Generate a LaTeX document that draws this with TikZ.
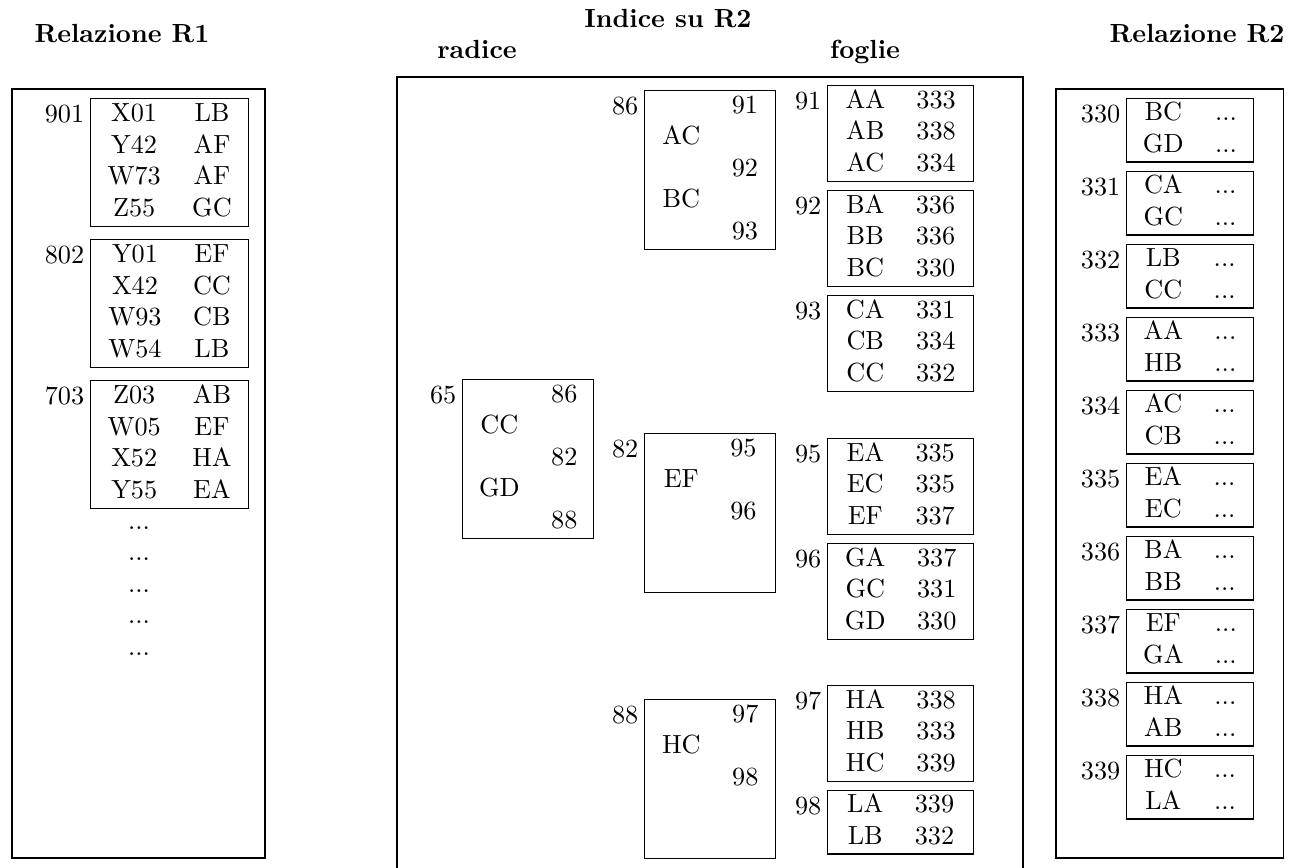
\documentclass[tikz,border=0pt]{standalone}
\usepackage{amsmath}
\usepackage{tikz}
\usetikzlibrary{positioning}

\begin{document}
\begin{tikzpicture}[x=0.0134cm, y=-0.0134cm,
    rec/.style={draw, inner sep=0pt, anchor=north west},
    r1rec/.style={rec, minimum width=2.12cm, minimum height=1.72cm},
    inode/.style={rec, minimum width=1.76cm, minimum height=2.13cm},
    leaf/.style={rec, minimum width=1.96cm, minimum height=1.29cm},
    r2rec/.style={rec, minimum width=1.70cm, minimum height=0.85cm},
    num/.style={anchor=north east, inner xsep=2pt, inner ysep=2.5pt},
    title/.style={anchor=base, font=\bfseries}]

    \useasboundingbox (0,0) rectangle (1294,867);

    % Titoli
    \node[title] (tr1) at (122,42) {Relazione R1};
    \node[title] (tidx) at (668,27) {Indice su R2};
    \node[title] (trad) at (477,58) {radice};
    \node[title] (tfog) at (865,58) {foglie};
    \node[title] (tr2) at (1197,42) {Relazione R2};

    % Contenitori
    \draw (12,89) rectangle (265,858);
    \draw (397,868) |- (1023,77) -- (1023,868);
    \draw (1056,89) rectangle (1283,858);

    % Relazione R1: blocchi
    \node[r1rec] (b901) at (90,98) {\begin{tabular}{cc} X01 & LB\\ Y42 & AF\\ W73 & AF\\ Z55 & GC \end{tabular}};
    \node[num] (l901) at (b901.north west) {901};
    \node[r1rec] (b802) at (90,239) {\begin{tabular}{cc} Y01 & EF\\ X42 & CC\\ W93 & CB\\ W54 & LB \end{tabular}};
    \node[num] (l802) at (b802.north west) {802};
    \node[r1rec] (b703) at (90,380) {\begin{tabular}{cc} Z03 & AB\\ W05 & EF\\ X52 & HA\\ Y55 & EA \end{tabular}};
    \node[num] (l703) at (b703.north west) {703};
    \node[align=center] (r1dots) at (139,591) {...\\ ...\\ ...\\ ...\\ ...};

    % Indice: radice
    \node[inode] (root) at (462,379) {\begin{tabular}{cc} & 86\\ CC & \\ & 82\\ GD & \\ & 88 \end{tabular}};
    \node[num] (l65) at (root.north west) {65};

    % Indice: nodi intermedi
    \node[inode] (i86) at (644,90) {\begin{tabular}{cc} & 91\\ AC & \\ & 92\\ BC & \\ & 93 \end{tabular}};
    \node[num] (l86) at (i86.north west) {86};
    \node[inode] (i82) at (644,433) {\begin{tabular}{cc} & 95\\ EF & \\ & 96\\ & \\ & \end{tabular}};
    \node[num] (l82) at (i82.north west) {82};
    \node[inode] (i88) at (644,699) {\begin{tabular}{cc} & 97\\ HC & \\ & 98\\ & \\ & \end{tabular}};
    \node[num] (l88) at (i88.north west) {88};

    % Indice: foglie
    \node[leaf] (f91) at (827,85) {\begin{tabular}{cc} AA & 333\\ AB & 338\\ AC & 334 \end{tabular}};
    \node[num] (l91) at (f91.north west) {91};
    \node[leaf] (f92) at (827,190) {\begin{tabular}{cc} BA & 336\\ BB & 336\\ BC & 330 \end{tabular}};
    \node[num] (l92) at (f92.north west) {92};
    \node[leaf] (f93) at (827,295) {\begin{tabular}{cc} CA & 331\\ CB & 334\\ CC & 332 \end{tabular}};
    \node[num] (l93) at (f93.north west) {93};
    \node[leaf] (f95) at (827,438) {\begin{tabular}{cc} EA & 335\\ EC & 335\\ EF & 337 \end{tabular}};
    \node[num] (l95) at (f95.north west) {95};
    \node[leaf] (f96) at (827,543) {\begin{tabular}{cc} GA & 337\\ GC & 331\\ GD & 330 \end{tabular}};
    \node[num] (l96) at (f96.north west) {96};
    \node[leaf] (f97) at (827,685) {\begin{tabular}{cc} HA & 338\\ HB & 333\\ HC & 339 \end{tabular}};
    \node[num] (l97) at (f97.north west) {97};
    \node[leaf, minimum height=0.85cm] (f98) at (827,790) {\begin{tabular}{cc} LA & 339\\ LB & 332 \end{tabular}};
    \node[num] (l98) at (f98.north west) {98};

    % Relazione R2: blocchi
    \node[r2rec] (p330) at (1126,98) {\begin{tabular}{cc} BC & ...\\ GD & ... \end{tabular}};
    \node[num] (l330) at (p330.north west) {330};
    \node[r2rec] (p331) at (1126,171) {\begin{tabular}{cc} CA & ...\\ GC & ... \end{tabular}};
    \node[num] (l331) at (p331.north west) {331};
    \node[r2rec] (p332) at (1126,244) {\begin{tabular}{cc} LB & ...\\ CC & ... \end{tabular}};
    \node[num] (l332) at (p332.north west) {332};
    \node[r2rec] (p333) at (1126,317) {\begin{tabular}{cc} AA & ...\\ HB & ... \end{tabular}};
    \node[num] (l333) at (p333.north west) {333};
    \node[r2rec] (p334) at (1126,390) {\begin{tabular}{cc} AC & ...\\ CB & ... \end{tabular}};
    \node[num] (l334) at (p334.north west) {334};
    \node[r2rec] (p335) at (1126,463) {\begin{tabular}{cc} EA & ...\\ EC & ... \end{tabular}};
    \node[num] (l335) at (p335.north west) {335};
    \node[r2rec] (p336) at (1126,536) {\begin{tabular}{cc} BA & ...\\ BB & ... \end{tabular}};
    \node[num] (l336) at (p336.north west) {336};
    \node[r2rec] (p337) at (1126,609) {\begin{tabular}{cc} EF & ...\\ GA & ... \end{tabular}};
    \node[num] (l337) at (p337.north west) {337};
    \node[r2rec] (p338) at (1126,682) {\begin{tabular}{cc} HA & ...\\ AB & ... \end{tabular}};
    \node[num] (l338) at (p338.north west) {338};
    \node[r2rec] (p339) at (1126,755) {\begin{tabular}{cc} HC & ...\\ LA & ... \end{tabular}};
    \node[num] (l339) at (p339.north west) {339};

\end{tikzpicture}
\end{document}
